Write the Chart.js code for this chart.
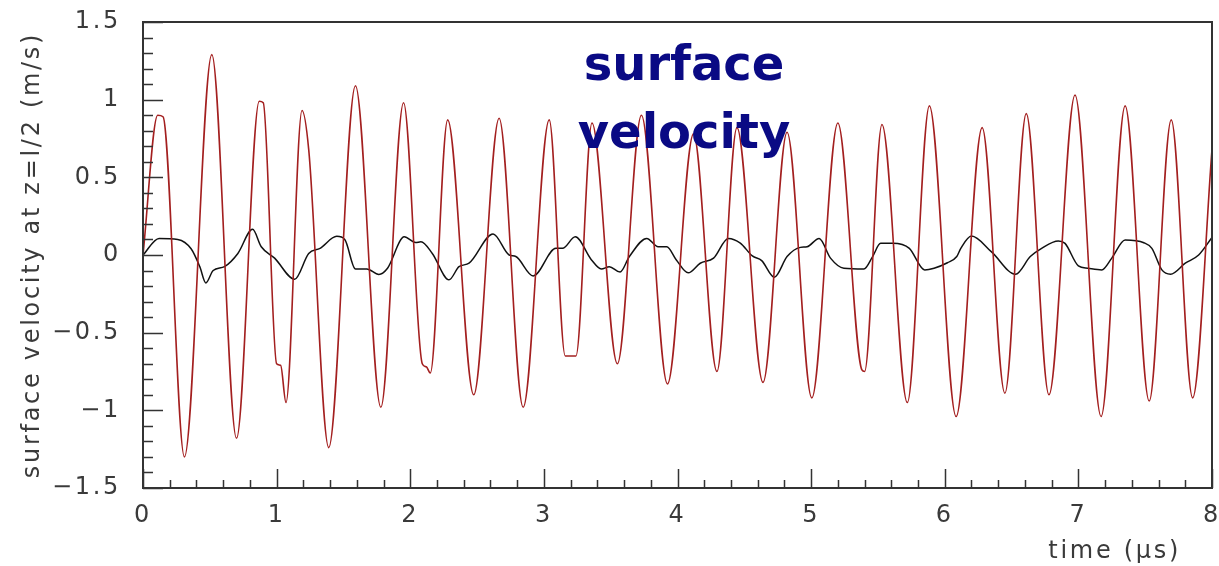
<!DOCTYPE html>
<html>
<head>
<meta charset="utf-8">
<script src="https://cdn.jsdelivr.net/npm/chart.js@4/dist/chart.umd.min.js"></script>
<style>
  body { margin: 0; background: #fff; }
  #wrap { position: relative; width: 1219px; height: 566px; }
  #heading {
    position: absolute; left: 484px; top: 29px; width: 400px;
    text-align: center; font: bold 48px "DejaVu Sans", sans-serif;
    line-height: 68px; color: #0a0a84; pointer-events: none;
  }
</style>
</head>
<body>
<div id="wrap">
  <canvas id="velChart" width="1219" height="566"></canvas>
  <div id="heading">surface<br>velocity</div>
</div>
<script>
// red trace: surface velocity (time in µs, m/s)
var redTime = [0, 0.11, 0.15, 0.31, 0.515, 0.70, 0.87, 0.90, 1.00, 1.03, 1.07, 1.19, 1.24, 1.39, 1.59, 1.78, 1.95,
  2.09, 2.12, 2.15, 2.28, 2.475, 2.665, 2.845, 3.04, 3.16, 3.24, 3.36, 3.55, 3.73, 3.925, 4.12, 4.295, 4.445,
  4.64, 4.82, 5.005, 5.20, 5.38, 5.40, 5.53, 5.72, 5.885, 6.085, 6.28, 6.45, 6.61, 6.78, 6.975, 7.17, 7.35,
  7.53, 7.695, 7.855, 8.0]
var redVel = [0, 0.90, 0.89, -1.30, 1.29, -1.18, 0.99, 0.98, -0.70, -0.71, -0.95, 0.93, 0.68, -1.24, 1.09, -0.98, 0.98,
  -0.70, -0.72, -0.76, 0.87, -0.90, 0.88, -0.98, 0.87, -0.65, -0.65, 0.85, -0.70, 0.90, -0.83, 0.78, -0.75, 0.82,
  -0.82, 0.79, -0.92, 0.85, -0.74, -0.75, 0.84, -0.95, 0.96, -1.04, 0.82, -0.89, 0.91, -0.90, 1.03, -1.04, 0.96,
  -0.94, 0.87, -0.92, 0.68]

// black trace
var blackTime = [0, 0.12, 0.26, 0.36, 0.425, 0.47, 0.525, 0.61, 0.71, 0.82, 0.885, 0.985, 1.135, 1.24, 1.325, 1.45,
  1.51, 1.59, 1.675, 1.765, 1.83, 1.955, 2.04, 2.08, 2.165, 2.29, 2.365, 2.44, 2.62, 2.74, 2.79, 2.92, 3.09, 3.14,
  3.235, 3.355, 3.43, 3.49, 3.57, 3.64, 3.77, 3.855, 3.92, 3.99, 4.08, 4.17, 4.27, 4.38, 4.47, 4.56, 4.63, 4.725,
  4.82, 4.92, 4.97, 5.06, 5.145, 5.245, 5.395, 5.46, 5.52, 5.61, 5.735, 5.85, 5.92, 6.02, 6.09, 6.12, 6.2, 6.35,
  6.53, 6.64, 6.725, 6.85, 6.9, 7.0, 7.07, 7.175, 7.25, 7.35, 7.49, 7.55, 7.625, 7.69, 7.8, 7.9, 8.0]
var blackVel = [0, 0.107, 0.10, 0.04, -0.075, -0.18, -0.10, -0.075, 0.01, 0.165, 0.053, -0.02, -0.156, 0.01, 0.043, 0.12,
  0.10, -0.09, -0.09, -0.125, -0.085, 0.117, 0.08, 0.085, 0.01, -0.16, -0.075, -0.053, 0.135, 0.0, -0.01, -0.135, 0.043, 0.043,
  0.117, -0.03, -0.09, -0.075, -0.11, -0.01, 0.107, 0.053, 0.053, -0.03, -0.115, -0.053, -0.02, 0.107, 0.077, -0.006, -0.036, -0.143,
  -0.01, 0.049, 0.053, 0.107, -0.02, -0.085, -0.09, -0.01, 0.075, 0.075, 0.043, -0.096, -0.085, -0.05, -0.01, 0.043, 0.122, 0.02,
  -0.124, -0.01, 0.043, 0.09, 0.075, -0.07, -0.085, -0.096, -0.02, 0.096, 0.079, 0.043, -0.096, -0.124, -0.053, 0.0, 0.113]

var xTicks = [0, 1, 2, 3, 4, 5, 6, 7, 8]
var yTicks = [-1.5, -1, -0.5, 0, 0.5, 1, 1.5]

function pairs(xs, ys) {
  return xs.map(function (x, i) { return { x: x, y: ys[i] } })
}

// ROOT style frame with inward major/minor ticks
var frameTicks = {
  id: 'frameTicks',
  afterDatasetsDraw: function (chart) {
    var ctx = chart.ctx, a = chart.chartArea, x = chart.scales.x, y = chart.scales.y
    ctx.save()
    ctx.strokeStyle = '#333'
    ctx.lineWidth = 1.5
    ctx.beginPath()
    for (var i = 0; i <= 40; i++) {
      var px = Math.round(x.getPixelForValue(x.min + i * 0.2)) + 0.5
      ctx.moveTo(px, a.bottom)
      ctx.lineTo(px, a.bottom - (i % 5 === 0 ? 19 : 8))
    }
    for (var j = 0; j <= 30; j++) {
      var py = Math.round(y.getPixelForValue(y.min + j * 0.1)) + 0.5
      ctx.moveTo(a.left, py)
      ctx.lineTo(a.left + (j % 5 === 0 ? 20 : 10), py)
    }
    ctx.stroke()
    ctx.lineWidth = 2
    ctx.strokeRect(a.left, a.top, a.right - a.left, a.bottom - a.top)
    ctx.restore()
  }
}

// wide letter spacing like the original axis text
var spacing = {
  id: 'spacing',
  beforeUpdate: function (chart) { chart.ctx.letterSpacing = '2.7px' },
  beforeDraw: function (chart) { chart.ctx.letterSpacing = '2.7px' }
}

var labelFont = { family: 'DejaVu Sans', size: 24 }

var ctx = document.getElementById('velChart').getContext('2d')
var velChart = new Chart(ctx, {
  type: 'line',
  data: {
    datasets: [{
      data: pairs(redTime, redVel),
      borderColor: '#a31f1f',
      borderWidth: 1.6,
      pointRadius: 0,
      cubicInterpolationMode: 'monotone'
    }, {
      data: pairs(blackTime, blackVel),
      borderColor: '#111',
      borderWidth: 1.5,
      pointRadius: 0,
      cubicInterpolationMode: 'monotone'
    }]
  },
  options: {
    responsive: false,
    animation: false,
    devicePixelRatio: 1,
    layout: { padding: { top: 22, right: 7, left: 0, bottom: 0 } },
    plugins: { legend: { display: false }, tooltip: { enabled: false } },
    scales: {
      x: {
        type: 'linear',
        min: 0, max: 8,
        grid: { display: false, drawTicks: false },
        border: { display: false },
        afterBuildTicks: function (s) { s.ticks = xTicks.map(function (v) { return { value: v } }) },
        afterFit: function (s) { s.height = 78; s.paddingLeft = 0; s.paddingRight = 0 },
        ticks: { color: '#3a3a3a', font: labelFont, padding: 13, maxRotation: 0 },
        title: {
          display: true, text: 'time (\u03bcs)   ', align: 'end',
          color: '#3a3a3a', font: labelFont, padding: { top: 0, bottom: 0 }
        }
      },
      y: {
        min: -1.5, max: 1.5,
        grid: { display: false, drawTicks: false },
        border: { display: false },
        afterBuildTicks: function (s) { s.ticks = yTicks.map(function (v) { return { value: v } }) },
        afterFit: function (s) { s.width = 143; s.paddingTop = 0; s.paddingBottom = 0 },
        ticks: {
          color: '#3a3a3a', font: labelFont, padding: 22,
          callback: function (v) { return String(Math.round(v * 10) / 10).replace('-', '\u2212') }
        },
        title: {
          display: true, text: 'surface velocity at z=l/2 (m/s)',
          color: '#3a3a3a', font: labelFont, padding: { top: 18, bottom: 0 }
        }
      }
    }
  },
  plugins: [spacing, frameTicks]
})
</script>
</body>
</html>
